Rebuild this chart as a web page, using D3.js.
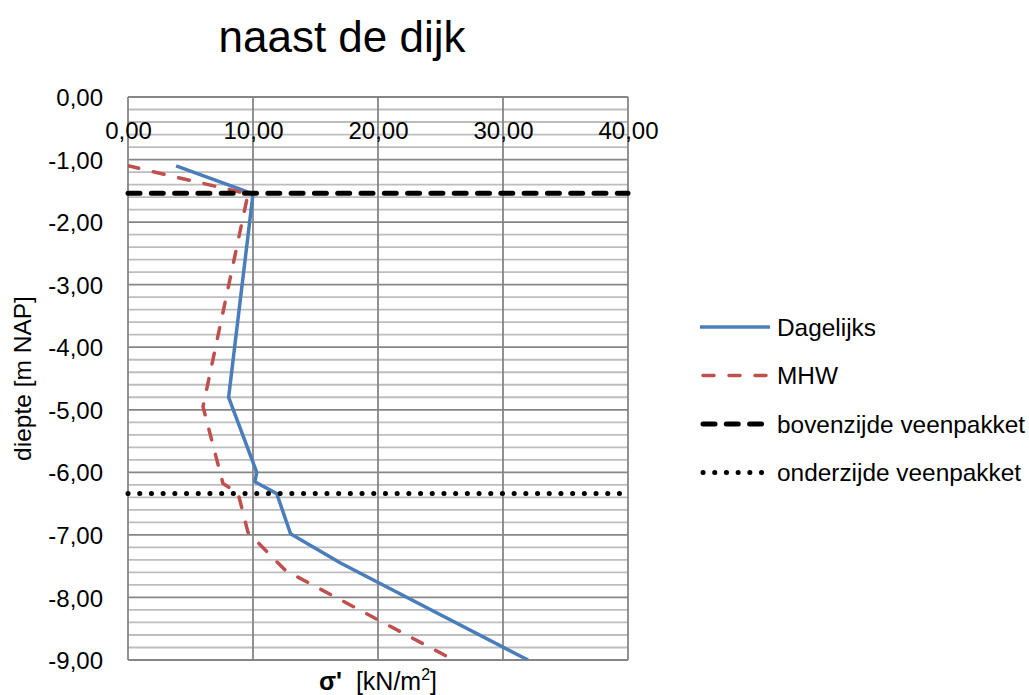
<!DOCTYPE html>
<html>
<head>
<meta charset="utf-8">
<script src="https://cdn.jsdelivr.net/npm/d3@7"></script>
<style>
  body { margin: 0; background: #fff; }
  svg { font-family: "Liberation Sans", Arial, sans-serif; }
</style>
</head>
<body>
<div id="graf"></div>
<script>
// I. Datos
titel = 'naast de dijk'
xTicks = [0, 10, 20, 30, 40]
yTicks = [0, -1, -2, -3, -4, -5, -6, -7, -8, -9]

dagelijksX = [3.85, 10.0, 8.05, 10.3, 10.15, 11.9, 13.0, 17.0, 32.0]
dagelijksY = [-1.10, -1.55, -4.80, -6.00, -6.15, -6.34, -6.98, -7.45, -9.00]

mhwX = [0, 9.6, 6.0, 7.6, 8.8, 9.6, 12.6, 26.8]
mhwY = [-1.10, -1.55, -4.95, -6.18, -6.33, -6.96, -7.57, -9.08]

bovenzijde = -1.54
onderzijde = -6.34

legendaNamen = ['Dagelijks', 'MHW', 'bovenzijde veenpakket', 'onderzijde veenpakket']

// II. Configuración
ancho_total = 1029
alto_total = 695
margins = { top: 97, left: 128, right: 401, bottom: 35 }
ancho = ancho_total - margins.left - margins.right
alto = alto_total - margins.top - margins.bottom

svg = d3.select('#graf').append('svg')
  .attr('width', ancho_total)
  .attr('height', alto_total)

g = svg.append('g')
  .attr('transform', `translate(${ margins.left }, ${ margins.top })`)

x = d3.scaleLinear().domain([0, 40]).range([0, ancho])
y = d3.scaleLinear().domain([0, -9]).range([0, alto])

fmt = d => d.toFixed(2).replace('.', ',')

// estilos de series
estilos = [
  { color: '#4a7ebb', w: 3.5, dash: null, cap: 'butt' },
  { color: '#c0504d', w: 3.5, dash: '11 15', cap: 'round' },
  { color: '#000', w: 5, dash: '12 11.3', cap: 'round' },
  { color: '#000', w: 5, dash: '0.1 11.6', cap: 'round' }
]

// III. Rejilla
minor = d3.range(0, -9.001, -0.2).filter(v => Math.abs(v - Math.round(v)) > 0.01)
g.selectAll('.minor').data(minor).enter().append('line')
  .attr('x1', 0).attr('x2', ancho)
  .attr('y1', d => y(d)).attr('y2', d => y(d))
  .attr('stroke', '#bdbdbd').attr('stroke-width', 1.8)

g.selectAll('.majorH').data(yTicks).enter().append('line')
  .attr('x1', 0).attr('x2', ancho)
  .attr('y1', d => y(d)).attr('y2', d => y(d))
  .attr('stroke', '#868686').attr('stroke-width', 1.8)

g.selectAll('.majorV').data(xTicks).enter().append('line')
  .attr('x1', d => x(d)).attr('x2', d => x(d))
  .attr('y1', 0).attr('y2', alto)
  .attr('stroke', '#868686').attr('stroke-width', 1.8)

// IV. Ejes
yAxis = g.append('g')
  .call(d3.axisLeft(y).tickValues(yTicks).tickFormat(fmt).tickSize(0).tickPadding(25))
yAxis.select('.domain').remove()
yAxis.selectAll('text')
  .style('font-size', '24px').style('font-family', '"Liberation Sans", Arial, sans-serif')
  .attr('fill', '#000').attr('dy', '0.36em')

xAxis = g.append('g')
  .call(d3.axisBottom(x).tickValues(xTicks).tickFormat(fmt).tickSize(0))
xAxis.select('.domain').remove()
xAxis.selectAll('text')
  .style('font-size', '24px').style('font-family', '"Liberation Sans", Arial, sans-serif')
  .attr('fill', '#000').attr('y', 42).attr('dy', 0)

// V. Series
g.append('clipPath').attr('id', 'clip')
  .append('rect').attr('width', ancho).attr('height', alto)

linea = d3.line().x(d => x(d[0])).y(d => y(d[1]))

series = [
  d3.zip(dagelijksX, dagelijksY),
  d3.zip(mhwX, mhwY),
  [[0, bovenzijde], [40, bovenzijde]],
  [[0, onderzijde], [40, onderzijde]]
]

series.forEach((serie, i) => {
  s = estilos[i]
  g.append('path')
    .datum(serie)
    .attr('d', linea)
    .attr('clip-path', i < 2 ? 'url(#clip)' : null)
    .attr('fill', 'none')
    .attr('stroke', s.color)
    .attr('stroke-width', s.w)
    .attr('stroke-linecap', s.cap)
    .attr('stroke-linejoin', 'round')
    .attr('stroke-dasharray', s.dash)
})

// VI. Títulos
svg.append('text')
  .attr('x', 342).attr('y', 52)
  .attr('text-anchor', 'middle')
  .style('font-size', '44px')
  .text(titel)

svg.append('text')
  .attr('transform', `translate(31, ${ margins.top + alto / 2 }) rotate(-90)`)
  .attr('text-anchor', 'middle')
  .style('font-size', '24.5px')
  .text('diepte [m NAP]')

xt = svg.append('text')
  .attr('x', margins.left + ancho / 2).attr('y', 690)
  .attr('text-anchor', 'middle')
  .style('font-size', '25px')
xt.append('tspan').style('font-weight', 'bold').text("σ'")
xt.append('tspan').attr('xml:space', 'preserve').text('  [kN/m')
xt.append('tspan').attr('dy', -10).style('font-size', '16px').text('2')
xt.append('tspan').attr('dy', 10).text(']')

// VII. Leyenda
ley = svg.append('g').attr('transform', 'translate(700, 327)')
filas = ley.selectAll('g').data(legendaNamen).enter().append('g')
  .attr('transform', (d, i) => `translate(0, ${ i * 48.5 })`)

filas.append('line')
  .attr('x1', (d, i) => estilos[i].cap === 'round' ? 3 : 0)
  .attr('x2', (d, i) => estilos[i].cap === 'round' ? 68 : 70)
  .attr('stroke', (d, i) => estilos[i].color)
  .attr('stroke-width', (d, i) => estilos[i].w)
  .attr('stroke-linecap', (d, i) => estilos[i].cap)
  .attr('stroke-dasharray', (d, i) => estilos[i].dash)

filas.append('text')
  .attr('x', 77).attr('y', 8.5)
  .style('font-size', '24.4px')
  .text(d => d)
</script>
</body>
</html>
